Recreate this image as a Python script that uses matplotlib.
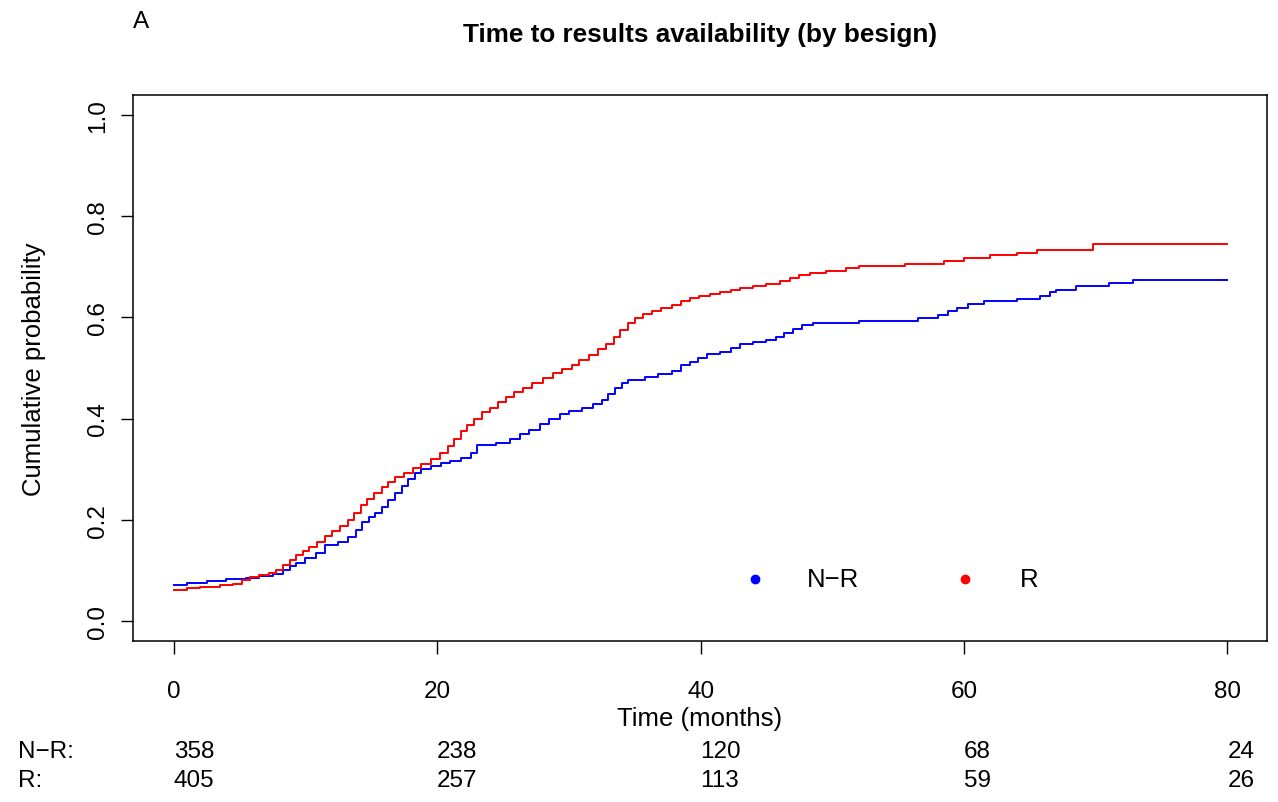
import numpy as np
import matplotlib
matplotlib.use("Agg")
from matplotlib import pyplot as plt

plt.rcParams['font.family'] = ['Liberation Sans', 'DejaVu Sans']

# cumulative incidence, group N-R (blue)
nr_time = [0, 1.0, 2.5, 4.0, 5.5, 6.5, 7.5, 8.3, 8.8, 9.3, 10.0, 10.8, 11.5, 12.5, 13.2, 13.8,
           14.3, 14.8, 15.3, 15.8, 16.3, 16.8, 17.3, 17.8, 18.3, 18.8, 19.5, 20.3, 21.0, 21.8,
           22.6, 23.0, 24.5, 25.5, 26.3, 27.0, 27.8, 28.5, 29.3, 30.0, 31.0, 31.8, 32.5, 33.0,
           33.5, 34.0, 34.5, 35.8, 36.8, 37.8, 38.5, 39.2, 39.8, 40.5, 41.5, 42.3, 43.0, 44.0,
           45.0, 45.7, 46.3, 47.0, 47.7, 48.5, 52.0, 56.5, 58.0, 58.8, 59.5, 60.3, 61.5, 64.0,
           65.8, 66.5, 67.0, 68.5, 71.0, 72.8, 80]
nr_prob = [0.071, 0.074, 0.078, 0.082, 0.085, 0.088, 0.093, 0.100, 0.108, 0.115, 0.125, 0.135,
           0.150, 0.155, 0.165, 0.180, 0.195, 0.205, 0.213, 0.225, 0.238, 0.252, 0.266, 0.280,
           0.292, 0.300, 0.307, 0.313, 0.317, 0.321, 0.331, 0.348, 0.352, 0.360, 0.370, 0.378,
           0.390, 0.400, 0.408, 0.415, 0.420, 0.428, 0.436, 0.448, 0.460, 0.470, 0.477, 0.482,
           0.488, 0.495, 0.505, 0.512, 0.520, 0.527, 0.532, 0.540, 0.548, 0.552, 0.556, 0.562,
           0.570, 0.578, 0.585, 0.588, 0.592, 0.598, 0.604, 0.612, 0.618, 0.626, 0.632, 0.636,
           0.642, 0.650, 0.655, 0.662, 0.668, 0.674, 0.674]

# group R (red)
r_time = [0, 1.0, 2.0, 3.5, 4.5, 5.2, 5.8, 6.5, 7.2, 7.8, 8.3, 8.8, 9.3, 9.8, 10.3, 10.9, 11.5,
          12.0, 12.6, 13.2, 13.7, 14.2, 14.7, 15.2, 15.8, 16.3, 16.8, 17.5, 18.2, 18.8, 19.5,
          20.2, 20.8, 21.3, 21.8, 22.3, 22.8, 23.4, 24.0, 24.6, 25.2, 25.8, 26.5, 27.2, 28.0,
          28.8, 29.5, 30.2, 30.8, 31.5, 32.2, 32.8, 33.4, 33.9, 34.5, 35.0, 35.6, 36.3, 37.0,
          37.8, 38.5, 39.2, 39.9, 40.7, 41.5, 42.3, 43.0, 44.0, 45.0, 46.0, 46.8, 47.5, 48.3,
          49.5, 51.0, 52.0, 55.5, 58.5, 60.0, 62.0, 64.0, 65.5, 69.8, 80]
r_prob = [0.061, 0.064, 0.067, 0.070, 0.073, 0.080, 0.086, 0.090, 0.095, 0.100, 0.110, 0.120,
          0.130, 0.138, 0.146, 0.156, 0.168, 0.178, 0.188, 0.200, 0.214, 0.228, 0.240, 0.252,
          0.265, 0.275, 0.284, 0.293, 0.302, 0.310, 0.320, 0.332, 0.345, 0.360, 0.375, 0.388,
          0.400, 0.412, 0.420, 0.432, 0.442, 0.452, 0.460, 0.470, 0.480, 0.490, 0.498, 0.506,
          0.516, 0.526, 0.538, 0.548, 0.562, 0.575, 0.588, 0.598, 0.606, 0.613, 0.618, 0.625,
          0.632, 0.638, 0.643, 0.647, 0.651, 0.655, 0.658, 0.662, 0.666, 0.672, 0.678, 0.684,
          0.688, 0.692, 0.698, 0.702, 0.705, 0.712, 0.718, 0.724, 0.728, 0.734, 0.745, 0.745]

groups = ["N\u2212R", "R"]
colors = ["#0000FF", "#FF0000"]
risk_times = [0, 20, 40, 60, 80]
risk_nr = [358, 238, 120, 68, 24]
risk_r = [405, 257, 113, 59, 26]

fs = 17.5
fig = plt.figure(figsize=(12.78, 8.03), dpi=100)
ax = fig.add_axes([0.104, 0.2005, 0.8874, 0.68])

ax.step(nr_time, nr_prob, where='post', color=colors[0], lw=1.4)
ax.step(r_time, r_prob, where='post', color=colors[1], lw=1.4)

ax.set_xlim(-3.1, 83.0)
ax.set_ylim(-0.04, 1.04)
ax.set_xticks(risk_times)
ax.set_yticks([0.0, 0.2, 0.4, 0.6, 0.8, 1.0])
ax.set_yticklabels(["0.0", "0.2", "0.4", "0.6", "0.8", "1.0"], rotation=90, va='center')
ax.tick_params(axis='x', direction='out', length=9, width=1, pad=19, labelsize=fs)
ax.tick_params(axis='y', direction='out', length=9, width=1, pad=8, labelsize=fs)
for s in ax.spines.values():
    s.set_linewidth(1.1)

ax.set_xlabel("Time (months)", fontsize=18.5, labelpad=3)
ax.set_ylabel("Cumulative probability", fontsize=18.5, labelpad=30)

# legend (inside plot)
ax.plot([44.1], [0.083], 'o', color=colors[0], ms=6)
ax.text(48.1, 0.083, groups[0], fontsize=18.5, va='center', ha='left')
ax.plot([60.1], [0.083], 'o', color=colors[1], ms=6)
ax.text(64.2, 0.083, groups[1], fontsize=18.5, va='center', ha='left')

fig.text(0.548, 0.957, "Time to results availability (by besign)", fontsize=18.8,
         fontweight='bold', ha='center', va='center')
fig.text(0.104, 0.973, "A", fontsize=fs, ha='left', va='center')

# numbers at risk
trans = matplotlib.transforms.blended_transform_factory(ax.transData, fig.transFigure)
fig.text(0.014, 1 - 752 / 803, groups[0] + ":", fontsize=fs, ha='left', va='center')
fig.text(0.014, 1 - 781 / 803, groups[1] + ":", fontsize=fs, ha='left', va='center')
for t, a, b in zip(risk_times, risk_nr, risk_r):
    ax.text(t, 1 - 752 / 803, str(a), transform=trans, fontsize=fs, ha='left', va='center')
    ax.text(t, 1 - 781 / 803, str(b), transform=trans, fontsize=fs, ha='left', va='center')

fig.savefig("out.png", dpi=100)
